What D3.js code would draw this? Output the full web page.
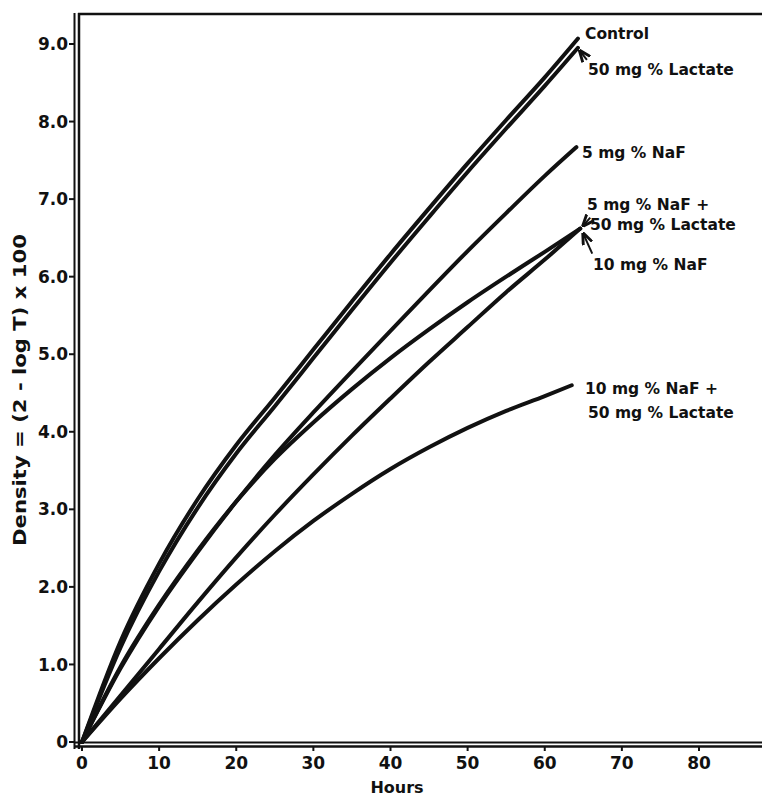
<!DOCTYPE html>
<html>
<head>
<meta charset="utf-8">
<script src="https://cdn.jsdelivr.net/npm/d3@7.9.0/dist/d3.min.js"></script>
<style>
  html, body { margin: 0; padding: 0; background: #fff; }
  svg text { font-family: "DejaVu Sans", sans-serif; font-weight: bold; fill: #111; }
</style>
</head>
<body>
<script>
// Sampling hours shared by all curves (last point per curve is in lastHour)
const hours = [0, 5, 10, 15, 20, 25, 30, 35, 40, 45, 50, 55, 60];
const xTicks = [0, 10, 20, 30, 40, 50, 60, 70, 80];
const yTicks = [0, 1, 2, 3, 4, 5, 6, 7, 8, 9];

const control     = [0, 1.30, 2.30, 3.13, 3.83, 4.44, 5.06, 5.68, 6.29, 6.88, 7.46, 8.02, 8.57, 9.07];
const lactate     = [0, 1.22, 2.20, 3.02, 3.72, 4.33, 4.95, 5.57, 6.18, 6.77, 7.35, 7.91, 8.46, 8.95];
const naf5        = [0, 0.95, 1.75, 2.45, 3.10, 3.70, 4.25, 4.78, 5.30, 5.82, 6.33, 6.82, 7.30, 7.67];
const naf5Lact    = [0, 0.97, 1.77, 2.47, 3.10, 3.65, 4.12, 4.55, 4.95, 5.32, 5.67, 6.00, 6.32, 6.62];
const naf10       = [0, 0.60, 1.20, 1.80, 2.38, 2.93, 3.45, 3.95, 4.43, 4.90, 5.35, 5.80, 6.22, 6.62];
const naf10Lact   = [0, 0.56, 1.08, 1.57, 2.03, 2.46, 2.85, 3.20, 3.52, 3.80, 4.05, 4.27, 4.46, 4.60];
const lastHour    = [64.3, 64.3, 64.1, 64.6, 64.6, 63.5];

const allSeries = [control, lactate, naf5, naf5Lact, naf10, naf10Lact];

const width = 762, height = 796;
const svg = d3.select("body").append("svg").attr("width", width).attr("height", height);

const x = d3.scaleLinear().domain([0, 80]).range([82, 699]);
const y = d3.scaleLinear().domain([0, 9]).range([742, 44]);

// frame: double y axis line, top border, double x axis line
svg.append("line").attr("x1", 74.5).attr("x2", 74.5).attr("y1", 13).attr("y2", 749)
  .attr("stroke", "#111").attr("stroke-width", 2);
svg.append("line").attr("x1", 79).attr("x2", 79).attr("y1", 13).attr("y2", 749)
  .attr("stroke", "#111").attr("stroke-width", 2.5);
svg.append("line").attr("x1", 78).attr("x2", width).attr("y1", 14).attr("y2", 14)
  .attr("stroke", "#111").attr("stroke-width", 2.5);
svg.append("line").attr("x1", 74).attr("x2", width).attr("y1", 742.5).attr("y2", 742.5)
  .attr("stroke", "#111").attr("stroke-width", 2);
svg.append("line").attr("x1", 74).attr("x2", width).attr("y1", 746.5).attr("y2", 746.5)
  .attr("stroke", "#111").attr("stroke-width", 2.5);

// y axis ticks + labels
const yAxis = svg.append("g");
yAxis.selectAll("line").data(yTicks).enter().append("line")
  .attr("x1", 69).attr("x2", 75).attr("y1", d => y(d)).attr("y2", d => y(d))
  .attr("stroke", "#111").attr("stroke-width", 2);
yAxis.selectAll("text").data(yTicks).enter().append("text")
  .attr("x", 68).attr("y", d => y(d)).attr("dy", "0.36em")
  .attr("text-anchor", "end").style("font-size", "17px")
  .text(d => d === 0 ? "0" : d.toFixed(1));

// x axis ticks + labels
const xAxis = svg.append("g");
xAxis.selectAll("line").data(xTicks).enter().append("line")
  .attr("x1", d => x(d)).attr("x2", d => x(d)).attr("y1", 746).attr("y2", 751)
  .attr("stroke", "#111").attr("stroke-width", 2);
xAxis.selectAll("text").data(xTicks).enter().append("text")
  .attr("x", d => x(d)).attr("y", 763).attr("dy", "0.36em")
  .attr("text-anchor", "middle").style("font-size", "17px")
  .text(d => d);

svg.append("text").attr("x", 397).attr("y", 787).attr("dy", "0.36em")
  .attr("text-anchor", "middle").style("font-size", "16px").text("Hours");

svg.append("text")
  .attr("transform", "translate(20,390) rotate(-90)")
  .attr("text-anchor", "middle").attr("dy", "0.36em")
  .attr("textLength", 312).attr("lengthAdjust", "spacingAndGlyphs")
  .style("font-size", "17px")
  .text("Density = (2 - log T) x 100");

// curves
const line = d3.line()
  .x(d => x(d[0])).y(d => y(d[1]))
  .curve(d3.curveMonotoneX);

allSeries.forEach((vals, i) => {
  const pts = vals.map((v, j) => [j < hours.length ? hours[j] : lastHour[i], v]);
  svg.append("path").datum(pts)
    .attr("d", line)
    .attr("fill", "none")
    .attr("stroke", "#111")
    .attr("stroke-width", 4)
    .attr("stroke-linecap", "round");
});

// arrowhead marker
svg.append("defs").append("marker")
  .attr("id", "arr").attr("viewBox", "0 0 10 10").attr("refX", 9).attr("refY", 5)
  .attr("markerWidth", 6).attr("markerHeight", 6).attr("orient", "auto")
  .append("path").attr("d", "M0,1 L10,5 L0,9").attr("fill", "none")
  .attr("stroke", "#111").attr("stroke-width", 2.4);

function endPt(i) {
  const vals = allSeries[i];
  return [x(lastHour[i]), y(vals[vals.length - 1])];
}

function arrow(i, dx, dy, ox, oy) {
  const [ex, ey] = endPt(i);
  svg.append("line")
    .attr("x1", ex + dx).attr("y1", ey + dy)
    .attr("x2", ex + ox).attr("y2", ey + oy)
    .attr("stroke", "#111").attr("stroke-width", 2)
    .attr("marker-end", "url(#arr)");
}

// labels
const labelStyle = sel => sel.style("font-size", "15.5px").attr("dy", "0.36em");

svg.append("text").attr("x", 585).attr("y", 33).call(labelStyle).text("Control");
svg.append("text").attr("x", 588).attr("y", 69).call(labelStyle).text("50 mg % Lactate");
arrow(1, 9, 12, 2, 3);

svg.append("text").attr("x", 582).attr("y", 152).call(labelStyle).text("5 mg % NaF");

svg.append("text").attr("x", 587).attr("y", 204).call(labelStyle).text("5 mg % NaF +");
svg.append("text").attr("x", 590).attr("y", 224).call(labelStyle).text("50 mg % Lactate");
arrow(3, 10, -11, 3, -3);

svg.append("text").attr("x", 593).attr("y", 264).call(labelStyle).text("10 mg % NaF");
arrow(4, 12, 25, 3, 5);

svg.append("text").attr("x", 585).attr("y", 388).call(labelStyle).text("10 mg % NaF +");
svg.append("text").attr("x", 588).attr("y", 412).call(labelStyle).text("50 mg % Lactate");
</script>
</body>
</html>
